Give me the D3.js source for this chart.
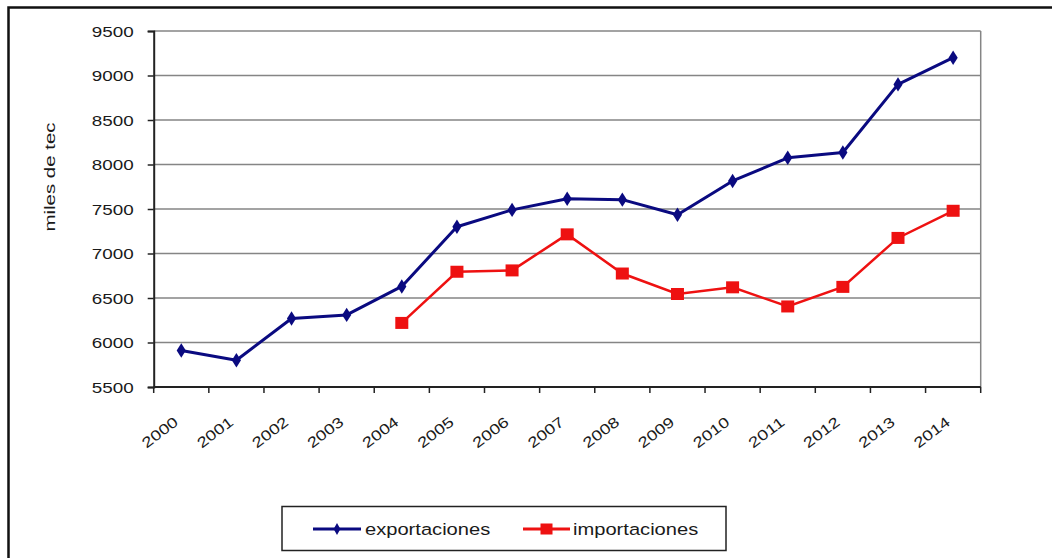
<!DOCTYPE html>
<html>
<head>
<meta charset="utf-8">
<script src="https://cdn.jsdelivr.net/npm/d3@7"></script>
<style>
  body { margin: 0; background: #fff; }
  text { font-family: "Liberation Sans", Arial, sans-serif; fill: #1a1a1a; }
</style>
</head>
<body>
<div id="chart"></div>
<script>
const years = ['2000','2001','2002','2003','2004','2005','2006','2007','2008','2009','2010','2011','2012','2013','2014'];
const exportaciones = [5910, 5800, 6270, 6310, 6630, 7300, 7490, 7615, 7605, 7435, 7815, 8075, 8135, 8900, 9200];
const importaciones = [null, null, null, null, 6220, 6795, 6810, 7215, 6775, 6545, 6620, 6405, 6625, 7175, 7480];
const yTicks = [5500, 6000, 6500, 7000, 7500, 8000, 8500, 9000, 9500];

const width = 1052;
const height = 558;
const plot = { left: 153.7, right: 980.7, top: 31, bottom: 387 };
const sx = 1.3; // horizontal stretch of the text

const svg = d3.select('#chart').append('svg')
    .attr('width', width)
    .attr('height', height);

// outer frame
svg.append('rect')
    .attr('x', 8.5).attr('y', 7.5)
    .attr('width', width + 20).attr('height', height + 20)
    .attr('fill', 'none').attr('stroke', '#111').attr('stroke-width', 2.5);

const x = d3.scaleBand().domain(years).range([plot.left, plot.right]);
const y = d3.scaleLinear().domain([5500, 9500]).range([plot.bottom, plot.top]);

// gridlines
svg.append('g')
    .selectAll('line')
    .data(yTicks)
    .join('line')
    .attr('x1', plot.left).attr('x2', plot.right)
    .attr('y1', d => y(d)).attr('y2', d => y(d))
    .attr('stroke', '#858585').attr('stroke-width', 1.5);

// right border of plot area
svg.append('line')
    .attr('x1', plot.right).attr('x2', plot.right)
    .attr('y1', plot.top).attr('y2', plot.bottom)
    .attr('stroke', '#858585').attr('stroke-width', 1.5);

// y axis
const yAxis = svg.append('g')
    .attr('transform', `translate(${plot.left},0)`)
    .call(d3.axisLeft(y).tickValues(yTicks).tickSize(6).tickPadding(0).tickFormat(d3.format('d')));
yAxis.select('.domain').attr('stroke', '#222').attr('stroke-width', 2);
yAxis.selectAll('.tick line').attr('stroke', '#222').attr('stroke-width', 1.5);
yAxis.selectAll('.tick text')
    .attr('x', 0)
    .attr('text-anchor', 'end')
    .attr('font-size', 14.5)
    .attr('dy', '0.35em')
    .attr('transform', `translate(-20,0) scale(${sx},1)`);

// x axis: ticks between the categories
const xAxis = svg.append('g')
    .attr('transform', `translate(0,${plot.bottom})`);
xAxis.append('line')
    .attr('x1', plot.left).attr('x2', plot.right)
    .attr('stroke', '#222').attr('stroke-width', 2);
const boundaries = years.map(d => x(d)).concat([x(years[years.length - 1]) + x.bandwidth()]);
xAxis.selectAll('.xt')
    .data(boundaries)
    .join('line')
    .attr('class', 'xt')
    .attr('x1', d => d).attr('x2', d => d)
    .attr('y1', 0).attr('y2', 6)
    .attr('stroke', '#222').attr('stroke-width', 1.5);
xAxis.selectAll('.xl')
    .data(years)
    .join('text')
    .attr('class', 'xl')
    .attr('text-anchor', 'end')
    .attr('font-size', 14.5)
    .attr('textLength', 41)
    .attr('lengthAdjust', 'spacingAndGlyphs')
    .attr('transform', d => `translate(${x(d) + x.bandwidth() / 2 - 2},${37}) rotate(-37)`)
    .text(d => d);

// y label
svg.append('text')
    .attr('transform', `translate(55,177) rotate(-90)`)
    .attr('text-anchor', 'middle')
    .attr('font-size', 14.5)
    .attr('textLength', 109)
    .attr('lengthAdjust', 'spacingAndGlyphs')
    .text('miles de tec');

const cx = d => x(d) + x.bandwidth() / 2;

// exportaciones
const expData = years.map((d, i) => ({ year: d, value: exportaciones[i] }));
svg.append('path')
    .datum(expData)
    .attr('fill', 'none')
    .attr('stroke', '#0a0a80')
    .attr('stroke-width', 3)
    .attr('stroke-linejoin', 'round')
    .attr('d', d3.line().x(d => cx(d.year)).y(d => y(d.value)));
svg.append('g')
    .selectAll('path')
    .data(expData)
    .join('path')
    .attr('d', d3.symbol().type(d3.symbolDiamond).size(60))
    .attr('transform', d => `translate(${cx(d.year)},${y(d.value)}) scale(1.1,1)`)
    .attr('fill', '#0a0a80');

// importaciones
const impData = years.map((d, i) => ({ year: d, value: importaciones[i] })).filter(d => d.value !== null);
svg.append('path')
    .datum(impData)
    .attr('fill', 'none')
    .attr('stroke', '#ee1111')
    .attr('stroke-width', 2.5)
    .attr('d', d3.line().x(d => cx(d.year)).y(d => y(d.value)));
svg.append('g')
    .selectAll('rect')
    .data(impData)
    .join('rect')
    .attr('x', d => cx(d.year) - 6.5)
    .attr('y', d => y(d.value) - 6)
    .attr('width', 13).attr('height', 12)
    .attr('fill', '#ee1111');

// legend
const legend = svg.append('g');
legend.append('rect')
    .attr('x', 282).attr('y', 506.5)
    .attr('width', 444).attr('height', 44)
    .attr('fill', '#fff').attr('stroke', '#222').attr('stroke-width', 1.5);

const legendItems = [
    { name: 'exportaciones', color: '#0a0a80', x1: 313, x2: 361, tx: 365 },
    { name: 'importaciones', color: '#ee1111', x1: 523, x2: 570, tx: 573 }
];
legendItems.forEach((item, i) => {
    const ly = 529;
    legend.append('line')
        .attr('x1', item.x1).attr('x2', item.x2)
        .attr('y1', ly).attr('y2', ly)
        .attr('stroke', item.color).attr('stroke-width', 3);
    if (i === 0) {
        legend.append('path')
            .attr('d', d3.symbol().type(d3.symbolDiamond).size(40))
            .attr('transform', `translate(${(item.x1 + item.x2) / 2},${ly})`)
            .attr('fill', item.color);
    } else {
        legend.append('rect')
            .attr('x', (item.x1 + item.x2) / 2 - 6).attr('y', ly - 5.5)
            .attr('width', 12).attr('height', 11)
            .attr('fill', item.color);
    }
    legend.append('text')
        .attr('font-size', 16.5)
        .attr('dy', '0.35em')
        .attr('transform', `translate(${item.tx},${ly}) scale(1.22,1)`)
        .text(item.name);
});
</script>
</body>
</html>
